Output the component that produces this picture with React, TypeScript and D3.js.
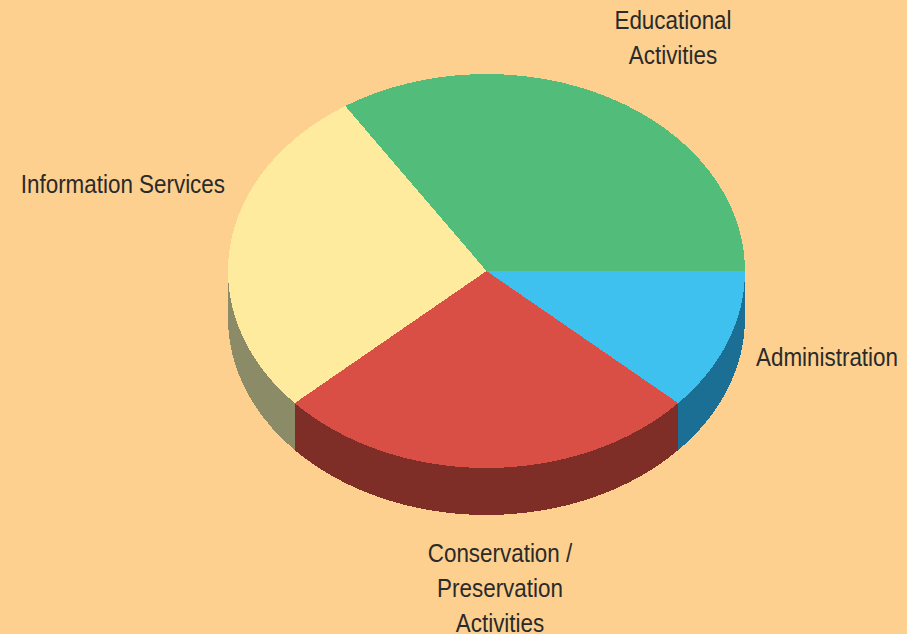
import React from "react";
import * as d3 from "d3";

const categories = ["Administration", "Conservation / Preservation Activities", "Information Services", "Educational Activities"];
const values = [11.7, 26.6, 27.5, 34.2];
const topColors = ["#3EC1EE", "#D94F45", "#FFEB9E", "#52BD7A"];
const sideColors = ["#1B6F94", "#7F2D27", "#8C8B68", "#2F7A4A"];
const labelLines = [["Administration"], ["Conservation /", "Preservation", "Activities"], ["Information Services"], ["Educational", "Activities"]];

const W = 907, H = 634;
const cx = 486.5, cy = 271, rx = 258.5, ry = 197, depth = 47;
const narrow = 0.862;

const labelPos: { x: number; y: number; anchor: string }[] = [
  { x: 756, y: 366, anchor: "start" },
  { x: 500, y: 562, anchor: "middle" },
  { x: 225, y: 193, anchor: "end" },
  { x: 673, y: 29, anchor: "middle" },
];

function pt(t: number, dy = 0) {
  return [cx + rx * Math.cos(t), cy + ry * Math.sin(t) + dy];
}

export default function App() {
  const pie = d3.pie<number>().sort(null).startAngle(Math.PI / 2).endAngle(Math.PI / 2 + 2 * Math.PI);
  const arcs = pie(values);
  const slices = arcs.map((a, i) => {
    const t0 = a.startAngle - Math.PI / 2;
    const t1 = a.endAngle - Math.PI / 2;
    const large = t1 - t0 > Math.PI ? 1 : 0;
    const p0 = pt(t0), p1 = pt(t1);
    const top = `M${cx},${cy}L${p0[0]},${p0[1]}A${rx},${ry} 0 ${large} 1 ${p1[0]},${p1[1]}Z`;
    let side: string | null = null;
    const s0 = Math.max(t0, 0), s1 = Math.min(t1, Math.PI);
    if (s1 > s0) {
      const a0 = pt(s0), a1 = pt(s1), b0 = pt(s0, depth), b1 = pt(s1, depth);
      side = `M${a0[0]},${a0[1]}A${rx},${ry} 0 0 1 ${a1[0]},${a1[1]}L${b1[0]},${b1[1]}A${rx},${ry} 0 0 0 ${b0[0]},${b0[1]}Z`;
    }
    return { top, side, i };
  });
  return (
    <svg width={W} height={H} style={{ position: "absolute", left: 0, top: 0 }}>
      <rect x={0} y={0} width={W} height={H} fill="#FDD08F" />
      <g shapeRendering="crispEdges">
        {slices.map((s) => s.side && <path key={"s" + s.i} d={s.side} fill={sideColors[s.i]} />)}
        {slices.map((s) => <path key={"t" + s.i} d={s.top} fill={topColors[s.i]} />)}
      </g>
      {labelLines.map((lines, i) => (
        <g key={i} transform={`translate(${labelPos[i].x},${labelPos[i].y}) scale(${narrow},1)`}>
          <text textAnchor={labelPos[i].anchor} fontFamily="'Liberation Sans', Arial, sans-serif" fontSize={26} fill="#2a2a2a">
            {lines.map((l, j) => (
              <tspan key={j} x={0} y={j * 35}>{l}</tspan>
            ))}
          </text>
        </g>
      ))}
    </svg>
  );
}
